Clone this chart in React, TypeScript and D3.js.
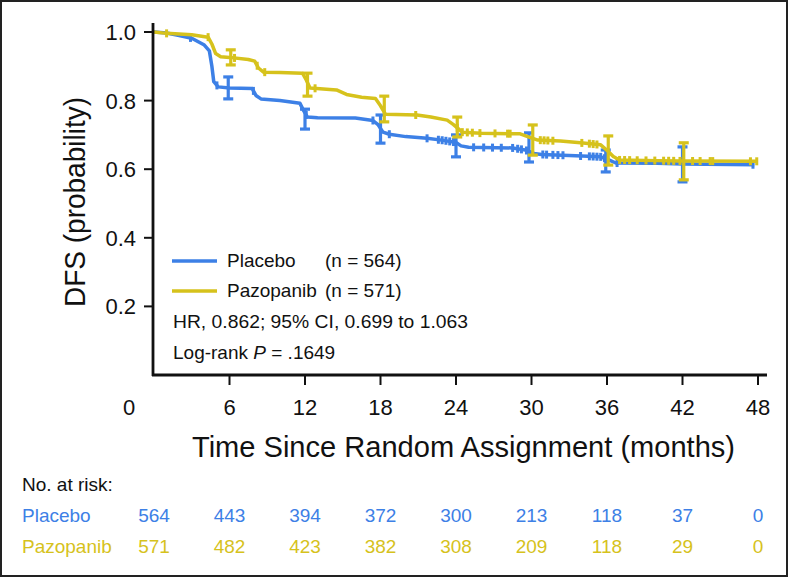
import React from "react";
import * as d3 from "d3";

// ---------- data ----------
const placeboCurve: [number, number][] = [
  [0, 1.0], [1, 0.997], [2, 0.99], [3, 0.982], [4, 0.962], [4.4, 0.945], [4.6, 0.9],
  [4.75, 0.855], [5.1, 0.84], [6, 0.837], [7.8, 0.835], [8.1, 0.815], [8.5, 0.805],
  [10, 0.8], [11.6, 0.792], [11.9, 0.77], [12.2, 0.752], [13, 0.75], [16, 0.749],
  [17.4, 0.742], [17.8, 0.73], [18.2, 0.708], [18.7, 0.702], [20, 0.695], [21.7, 0.69],
  [23, 0.684], [24, 0.678], [24.4, 0.668], [25, 0.664], [28.5, 0.662], [29.5, 0.656],
  [30.2, 0.646], [30.8, 0.643], [33, 0.64], [35.5, 0.636], [36.1, 0.628], [36.7, 0.618],
  [40, 0.617], [42, 0.615], [47.7, 0.613],
];
const pazopanibCurve: [number, number][] = [
  [0, 1.0], [1, 0.996], [2, 0.994], [3, 0.992], [4.3, 0.985], [4.6, 0.965], [4.9, 0.937],
  [5.3, 0.928], [6, 0.926], [7.5, 0.92], [8, 0.915], [8.3, 0.895], [8.7, 0.883], [10, 0.882],
  [11.8, 0.88], [12.1, 0.86], [12.4, 0.837], [14.5, 0.831], [15.3, 0.818], [16.5, 0.81],
  [17.6, 0.806], [18, 0.785], [18.4, 0.76], [20.9, 0.758], [22, 0.752], [23.3, 0.743],
  [23.8, 0.73], [24.5, 0.708], [26, 0.705], [29.1, 0.703], [29.7, 0.695], [30.5, 0.685],
  [32.3, 0.682], [33.9, 0.677], [35.5, 0.671], [36, 0.655], [36.5, 0.637], [37, 0.627],
  [40, 0.625], [42, 0.624], [48, 0.623],
];
const placeboCensors = [
  2.9, 5.0, 7.9, 12.1, 17.4, 18.7, 21.7, 22.6, 22.9, 23.2, 23.5, 23.8, 25.4, 26.2, 26.9,
  27.6, 28.5, 28.9, 29.2, 29.6, 30.9, 31.2, 31.7, 32.1, 32.5, 33.9, 34.6, 34.9, 35.2,
  35.5, 35.8, 36.8, 47.6,
];
const pazopanibCensors = [
  1.0, 4.3, 6.4, 8.2, 8.8, 12.8, 20.8, 24.1, 24.5, 24.9, 25.3, 25.9, 27.1, 28.1, 28.3,
  30.7, 31.0, 31.3, 31.7, 34.0, 34.6, 34.9, 35.2, 37.0, 37.4, 37.8, 38.4, 39.1, 39.8,
  40.5, 40.9, 41.3, 41.8, 42.8, 43.4, 44.2, 44.4, 47.4, 47.9,
];
// [time, lower, upper]
const placeboCI: [number, number, number][] = [
  [5.9, 0.805, 0.869], [12, 0.717, 0.775], [18, 0.676, 0.758], [24, 0.636, 0.7],
  [29.8, 0.621, 0.706], [35.9, 0.592, 0.656], [42, 0.563, 0.665],
];
const pazopanibCI: [number, number, number][] = [
  [6.1, 0.904, 0.948], [12.2, 0.813, 0.88], [18.3, 0.738, 0.813], [24.1, 0.694, 0.752],
  [30.1, 0.641, 0.729], [36.1, 0.612, 0.697], [42.1, 0.569, 0.677],
];
const xTicks = [0, 6, 12, 18, 24, 30, 36, 42, 48];
const yTicks = [0.2, 0.4, 0.6, 0.8, 1.0];
const riskPlacebo = [564, 443, 394, 372, 300, 213, 118, 37, 0];
const riskPazopanib = [571, 482, 423, 382, 308, 209, 118, 29, 0];

const BLUE = "#3d80e6";
const YELLOW = "#d6c21c";
const FONT = "'Liberation Sans', Arial, Helvetica, sans-serif";

export default function App() {
  const x = d3.scaleLinear().domain([0, 48]).range([154, 758]);
  const y = d3.scaleLinear().domain([0, 1]).range([375, 32]);
  const line = d3
    .line<[number, number]>()
    .x((d) => x(d[0]))
    .y((d) => y(d[1]));

  const interp = (curve: [number, number][], t: number) => {
    for (let i = 1; i < curve.length; i++) {
      if (t <= curve[i][0]) {
        const [t0, s0] = curve[i - 1];
        const [t1, s1] = curve[i];
        return s0 + ((s1 - s0) * (t - t0)) / (t1 - t0);
      }
    }
    return curve[curve.length - 1][1];
  };

  const series = [
    { curve: placeboCurve, censors: placeboCensors, ci: placeboCI, color: BLUE },
    { curve: pazopanibCurve, censors: pazopanibCensors, ci: pazopanibCI, color: YELLOW },
  ];

  return (
    <svg
      width={796}
      height={578}
      style={{ position: "absolute", left: 0, top: 0, background: "#fff" }}
      fontFamily={FONT}
    >
      <rect x={1} y={1} width={786} height={575} fill="#fff" stroke="#222" strokeWidth={2} />

      {/* curves */}
      {series.map((s, i) => (
        <g key={i}>
          <path d={line(s.curve) || ""} fill="none" stroke={s.color} strokeWidth={3.5} strokeLinejoin="round" />
          {s.censors.map((t, j) => {
            const cy = y(interp(s.curve, t));
            return (
              <line key={j} x1={x(t)} x2={x(t)} y1={cy - 4} y2={cy + 4} stroke={s.color} strokeWidth={3} />
            );
          })}
          {s.ci.map(([t, lo, hi], j) => (
            <g key={"ci" + j} stroke={s.color} strokeWidth={3.2}>
              <line x1={x(t)} x2={x(t)} y1={y(lo)} y2={y(hi)} />
              <line x1={x(t) - 5} x2={x(t) + 5} y1={y(lo)} y2={y(lo)} />
              <line x1={x(t) - 5} x2={x(t) + 5} y1={y(hi)} y2={y(hi)} />
            </g>
          ))}
        </g>
      ))}

      {/* axes */}
      <line x1={153} x2={153} y1={23} y2={376} stroke="#111" strokeWidth={2.8} />
      <line x1={152} x2={767} y1={375} y2={375} stroke="#111" strokeWidth={2.8} />
      {yTicks.map((v) => (
        <g key={v}>
          <line x1={144} x2={153} y1={y(v)} y2={y(v)} stroke="#111" strokeWidth={2} />
          <text x={136} y={y(v) + 8} textAnchor="end" fontSize={22} fill="#111">
            {v.toFixed(1)}
          </text>
        </g>
      ))}
      {xTicks.map((v) => (
        <g key={v}>
          {v > 0 && <line x1={x(v)} x2={x(v)} y1={375} y2={385} stroke="#111" strokeWidth={2} />}
          <text x={v === 0 ? 129 : x(v)} y={415} textAnchor="middle" fontSize={22} fill="#111">
            {v}
          </text>
        </g>
      ))}
      <text x={192} y={457} fontSize={30} fill="#111" textLength={543} lengthAdjust="spacingAndGlyphs">
        Time Since Random Assignment (months)
      </text>
      <text
        transform="translate(85,202) rotate(-90)"
        textAnchor="middle"
        fontSize={30}
        fill="#111"
        textLength={210}
        lengthAdjust="spacingAndGlyphs"
      >
        DFS (probability)
      </text>

      {/* legend */}
      <line x1={172} x2={217} y1={261} y2={261} stroke={BLUE} strokeWidth={3.5} />
      <text x={227} y={267} fontSize={19} fill="#111">Placebo</text>
      <text x={325} y={267} fontSize={19} fill="#111">(n = 564)</text>
      <line x1={172} x2={217} y1={291} y2={291} stroke={YELLOW} strokeWidth={3.5} />
      <text x={227} y={297} fontSize={19} fill="#111">Pazopanib</text>
      <text x={325} y={297} fontSize={19} fill="#111">(n = 571)</text>
      <text x={173} y={328} fontSize={19} fill="#111" textLength={295} lengthAdjust="spacingAndGlyphs">
        HR, 0.862; 95% CI, 0.699 to 1.063
      </text>
      <text x={173} y={359} fontSize={19} fill="#111">
        Log-rank <tspan fontStyle="italic">P</tspan> = .1649
      </text>

      {/* risk table */}
      <text x={22} y={491} fontSize={19} fill="#111">No. at risk:</text>
      <text x={22} y={522} fontSize={19} fill={BLUE}>Placebo</text>
      <text x={22} y={553} fontSize={19} fill={YELLOW}>Pazopanib</text>
      {xTicks.map((t, i) => (
        <g key={"r" + t}>
          <text x={x(t)} y={522} fontSize={19} fill={BLUE} textAnchor="middle">{riskPlacebo[i]}</text>
          <text x={x(t)} y={553} fontSize={19} fill={YELLOW} textAnchor="middle">{riskPazopanib[i]}</text>
        </g>
      ))}
    </svg>
  );
}
